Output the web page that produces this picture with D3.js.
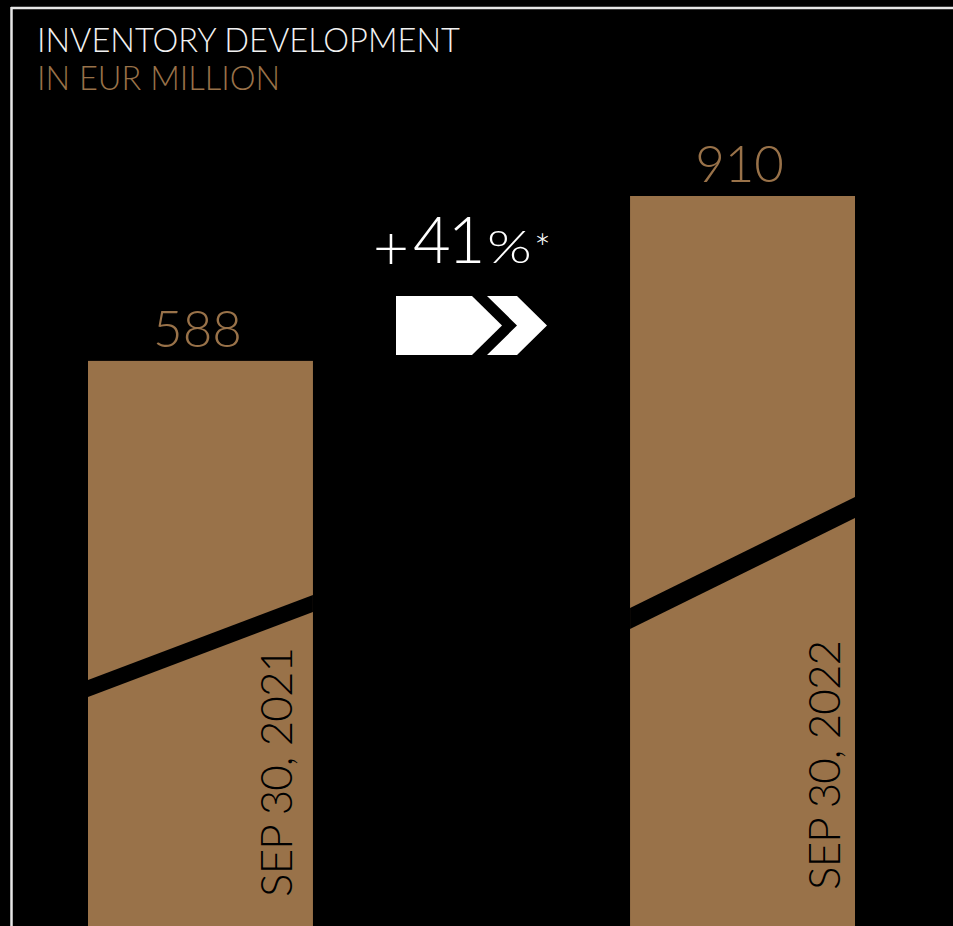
<!DOCTYPE html>
<html>
<head>
<meta charset="utf-8">
<script src="https://cdn.jsdelivr.net/npm/d3@7/dist/d3.min.js"></script>
<style>
  html, body { margin: 0; padding: 0; background: #000; }
  svg { display: block; }
  text { font-family: Lato, "Open Sans", sans-serif; font-weight: 300; }
</style>
</head>
<body>
<script>
// Inventory at the two reporting dates (EUR million)
const categories = ["SEP 30, 2021", "SEP 30, 2022"];
const values = [588, 910];
const titleLines = ["INVENTORY DEVELOPMENT", "IN EUR MILLION"];
const changeParts = ["+", "41", "%", "*"];

const W = 953, H = 926;
const brown = "#997249";

const svg = d3.select("body").append("svg")
  .attr("width", W).attr("height", H);

svg.append("rect").attr("width", W).attr("height", H).attr("fill", "#000");

// Frame: top and left rules
svg.append("line").attr("x1", 11).attr("x2", W).attr("y1", 8).attr("y2", 8)
  .attr("stroke", "#e6e6e6").attr("stroke-width", 2.5);
svg.append("line").attr("x1", 11.5).attr("x2", 11.5).attr("y1", 7).attr("y2", H)
  .attr("stroke", "#e6e6e6").attr("stroke-width", 2.5);

// Title
svg.append("text").attr("x", 37).attr("y", 52)
  .attr("font-size", 32.6).attr("fill", "#f2f2f2").text(titleLines[0]);
svg.append("text").attr("x", 37).attr("y", 90)
  .attr("font-size", 32.6).attr("fill", brown).text(titleLines[1]);

// Scales
const x = d3.scaleBand().domain(categories).range([88, 855]).paddingInner(0.585).paddingOuter(0);
const y = d3.scaleLinear().domain([0, 910]).range([662, 196]);

// Bars run down past the frame; an axis break cuts through each one
const barBottom = H + 10;
const breaks = [
  { left: 688.5, right: 603.5, thick: 17 },
  { left: 618.5, right: 507.5, thick: 21 }
];
// date label placement: inset from the bar's right edge, start above the bottom
const dateInset = [21, 15];
const dateStart = [897, 890];

const g = svg.append("g");

categories.forEach((c, i) => {
  const x0 = x(c), x1 = x(c) + x.bandwidth();
  const top = y(values[i]);
  g.append("rect")
    .attr("x", x0).attr("y", top)
    .attr("width", x.bandwidth()).attr("height", barBottom - top)
    .attr("fill", brown);

  const b = breaks[i], h = b.thick / 2;
  g.append("path")
    .attr("d", `M${x0},${b.left - h}L${x1},${b.right - h}L${x1},${b.right + h}L${x0},${b.left + h}Z`)
    .attr("fill", "#000");

  // value above the bar
  g.append("text")
    .attr("x", x0 + x.bandwidth() / 2 - 3).attr("y", top - 14)
    .attr("text-anchor", "middle").attr("font-size", 51)
    .attr("fill", brown).text(values[i]);

  // date label reading upward inside the bar
  g.append("text")
    .attr("transform", `translate(${x1 - dateInset[i]},${dateStart[i]}) rotate(-90)`)
    .attr("font-size", 44).attr("letter-spacing", -0.9)
    .attr("fill", "#000").text(c);
});

// Change label
const chg = svg.append("g").attr("fill", "#fff");
chg.append("text").attr("x", 373).attr("y", 269).attr("font-size", 62).text(changeParts[0]);
chg.append("text").attr("x", 413).attr("y", 263).attr("font-size", 65)
  .attr("letter-spacing", -3).text(changeParts[1]);
chg.append("text").attr("transform", "translate(487,263) scale(1.25,1)")
  .attr("font-size", 46).text(changeParts[2]);
chg.append("text").attr("x", 534).attr("y", 263).attr("font-size", 40).text(changeParts[3]);

// Arrow: tag shape followed by a chevron
const ay0 = 296, ay1 = 355, amid = (ay0 + ay1) / 2;
svg.append("path")
  .attr("d", `M396,${ay0}L472,${ay0}L502,${amid}L472,${ay1}L396,${ay1}Z`)
  .attr("fill", "#fff");
svg.append("path")
  .attr("d", `M487,${ay0}L517,${ay0}L547,${amid}L517,${ay1}L487,${ay1}L517,${amid}Z`)
  .attr("fill", "#fff");
</script>
</body>
</html>
